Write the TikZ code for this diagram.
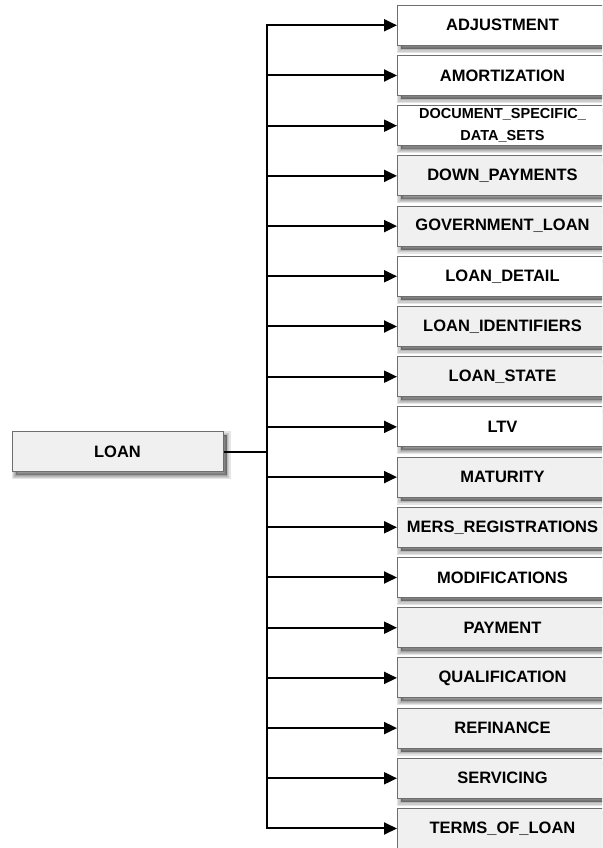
\documentclass[tikz,border=0pt]{standalone}
\usepackage{fontspec}
\setmainfont{Liberation Sans}
\usetikzlibrary{arrows.meta}
\definecolor{boxgray}{HTML}{F0F0F0}
\definecolor{boxline}{HTML}{6E6E6E}
\tikzset{
  sh/.style={preaction={draw=black, fill=black, line width=#1, draw opacity=0.1, fill opacity=0.1,
     transform canvas={shift={(3.5pt,-3.5pt)}}}},
  softshadow/.style={sh=8pt, sh=5.5pt, sh=3pt, sh=1pt},
  entity/.style={draw=boxline, line width=1pt, minimum width=210pt, minimum height=40pt,
    inner sep=0pt, align=center, font=\fontsize{16.5}{20}\selectfont\bfseries, softshadow},
  child/.style={entity, anchor=west},
  conn/.style={line width=2pt, black},
  arr/.style={conn, -{Triangle[length=13pt,width=12pt]}}
}
\begin{document}
\begin{tikzpicture}[x=1pt,y=1pt]
\useasboundingbox (0,0) rectangle (602,848);
\clip (0,0) rectangle (602,848);
\fill[white] (0,0) rectangle (602,848);
\node[entity, fill=boxgray, minimum width=211pt] (loan) at (117.5,396) {LOAN};
\node[child, fill=white]   (c0)  at (397,822.7) {ADJUSTMENT};
\node[child, fill=white]   (c1)  at (397,772.5) {AMORTIZATION};
\node[child, fill=white, font=\fontsize{14.5}{22}\selectfont\bfseries] (c2) at (397,722.3) {DOCUMENT\_SPECIFIC\_\\DATA\_SETS};
\node[child, fill=boxgray] (c3)  at (397,672.1) {DOWN\_PAYMENTS};
\node[child, fill=boxgray] (c4)  at (397,621.9) {GOVERNMENT\_LOAN};
\node[child, fill=white]   (c5)  at (397,571.7) {LOAN\_DETAIL};
\node[child, fill=boxgray] (c6)  at (397,521.5) {LOAN\_IDENTIFIERS};
\node[child, fill=boxgray] (c7)  at (397,471.3) {LOAN\_STATE};
\node[child, fill=white]   (c8)  at (397,421.1) {LTV};
\node[child, fill=boxgray] (c9)  at (397,370.9) {MATURITY};
\node[child, fill=boxgray] (c10) at (397,320.7) {MERS\_REGISTRATIONS};
\node[child, fill=white]   (c11) at (397,270.5) {MODIFICATIONS};
\node[child, fill=boxgray] (c12) at (397,220.3) {PAYMENT};
\node[child, fill=boxgray] (c13) at (397,170.1) {QUALIFICATION};
\node[child, fill=boxgray] (c14) at (397,119.9) {REFINANCE};
\node[child, fill=boxgray] (c15) at (397,69.7)  {SERVICING};
\node[child, fill=boxgray] (c16) at (397,19.5)  {TERMS\_OF\_LOAN};
\coordinate (top) at (267,822.7);
\coordinate (bot) at (267,19.5);
\foreach \i in {0,...,16}{
  \draw[arr] (c\i.west -| top) -- (c\i.west);
}
\draw[conn, line cap=rect] (top) -- (bot);
\draw[conn] (loan.east) -- (loan.east -| top);
\end{tikzpicture}
\end{document}
